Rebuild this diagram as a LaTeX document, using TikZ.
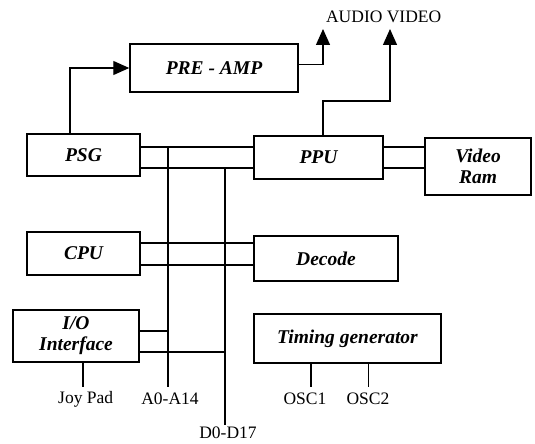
\documentclass[tikz,border=0pt]{standalone}
\usepackage{fontspec}
\setmainfont{Liberation Serif}
\usetikzlibrary{arrows.meta}
\tikzset{
  blk/.style={draw, line width=1.5pt, inner sep=0pt, align=center,
    font=\bfseries\itshape\fontsize{19.5}{21}\selectfont},
  wire/.style={line width=1.3pt},
  arr/.style={line width=1.3pt, -{Triangle[length=16pt,width=14pt]}},
  lbl/.style={inner sep=0pt, font=\fontsize{17.5}{20}\selectfont}
}
\begin{document}
\begin{tikzpicture}[x=1pt,y=-1pt]
\useasboundingbox (0,0) rectangle (535,444);
% blocks
\node[blk, minimum width=168pt, minimum height=48pt] (pre) at (214,68) {PRE - AMP};
\node[blk, minimum width=113pt, minimum height=42pt] (psg) at (83.5,155) {PSG};
\node[blk, minimum width=129pt, minimum height=43pt] (ppu) at (318.5,157.5) {PPU};
\node[blk, minimum width=106pt, minimum height=57pt] (vram) at (478,166.5) {Video\\Ram};
\node[blk, minimum width=113pt, minimum height=43pt] (cpu) at (83.5,253.5) {CPU};
\node[blk, minimum width=144pt, minimum height=45pt] (dec) at (326,258.5) {Decode};
\node[blk, minimum width=126pt, minimum height=52pt] (io) at (76,336) {I/O\\Interface};
\node[blk, minimum width=187pt, minimum height=49pt] (tim) at (347.5,338.5) {Timing generator};
% labels
\node[lbl] (av) at (383.7,17) {AUDIO VIDEO};
\node[lbl] (jp) at (85.7,399) {Joy Pad};
\node[lbl] (a0) at (170,399) {A0-A14};
\node[lbl] (d0) at (228,433) {D0-D17};
\node[lbl] (o1) at (305,399) {OSC1};
\node[lbl] (o2) at (368,399) {OSC2};
% helper coordinates
\coordinate (busU) at (0,147);
\coordinate (busL) at (0,168);
\coordinate (abot) at (168,387);
\coordinate (dbot) at (225,425);
\coordinate (pk) at (70,69);
\coordinate (atip) at (323,29);
\coordinate (vtip) at (390,29);
\coordinate (vk) at (323,101);
\coordinate (cu) at (0,243);
\coordinate (cl) at (0,265);
\coordinate (iu) at (0,331);
\coordinate (il) at (0,352);
\coordinate (jpe) at (83,387);
\coordinate (o1e) at (311,387);
\coordinate (o2e) at (368.5,387);
% arrows
\draw[arr] (psg.north -| pk) |- (pre.west);
\draw[arr] ([yshift=3.5pt]pre.east) -| (atip);
\draw[arr] (ppu.north -| vk) -- (vk) -| (vtip);
% buses
\draw[wire] (psg.east |- busU) -- (ppu.west |- busU);
\draw[wire] (psg.east |- busL) -- (ppu.west |- busL);
\draw[wire] (ppu.east |- busU) -- (vram.west |- busU);
\draw[wire] (ppu.east |- busL) -- (vram.west |- busL);
\draw[wire] (cpu.east |- cu) -- (dec.west |- cu);
\draw[wire] (cpu.east |- cl) -- (dec.west |- cl);
\draw[wire] (abot |- busU) -- (abot);
\draw[wire] (dbot |- busL) -- (dbot);
\draw[wire] (io.east |- iu) -- (abot |- iu);
\draw[wire] (io.east |- il) -- (dbot |- il);
\draw[wire] (io.south -| jpe) -- (jpe);
\draw[wire] (tim.south -| o1e) -- (o1e);
\draw[wire] (tim.south -| o2e) -- (o2e);
\end{tikzpicture}
\end{document}
